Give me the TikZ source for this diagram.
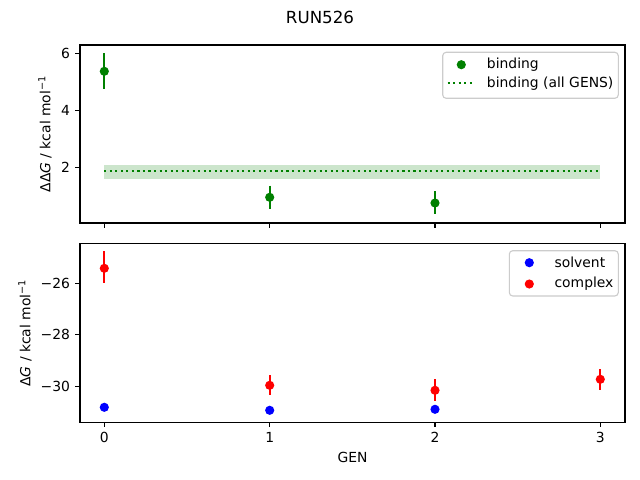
\documentclass[tikz,border=0pt]{standalone}
\usepackage{fontspec}
\setmainfont{DejaVu Sans}
\definecolor{mgreen}{HTML}{008000}
\definecolor{mblue}{HTML}{0000FF}
\definecolor{mred}{HTML}{FF0000}
\begin{document}
\begin{tikzpicture}[x=0.72pt,y=-0.72pt,
  axbox/.style={draw=black,line width=0.8pt},
  tickmark/.style={draw=black,line width=0.8pt},
  ticklab/.style={font=\fontsize{10}{12}\selectfont,inner sep=0pt},
  lab/.style={font=\fontsize{10}{12}\selectfont,inner sep=0pt},
  dot/.style={circle,inner sep=0pt,minimum size=6.6pt,draw=none,fill=#1},
  errbar/.style={line width=1.5pt,draw=#1},
  legbox/.style={draw=black!20,line width=0.8pt,rounded corners=2.5pt,fill=white,fill opacity=0.8}]
\useasboundingbox (0,0) rectangle (640,480);
\fill[white] (0,0) rectangle (640,480);
% title
\node[font=\fontsize{12}{14}\selectfont,inner sep=0pt] (title) at (320,17) {RUN526};
% ---------- top axes ----------
\fill[mgreen,opacity=0.2] (104.3,165) rectangle (600.3,178.7);
\draw[mgreen,line width=1.5pt,dash pattern=on 1.5pt off 2.475pt] (104.3,170.7) -- (600.3,170.7);
\draw[errbar=mgreen] (104.3,53.3) -- (104.3,88.7);
\draw[errbar=mgreen] (269.7,185.7) -- (269.7,208.7);
\draw[errbar=mgreen] (435.0,191) -- (435.0,214.3);
\node[dot=mgreen] (g0) at (104.3,71.3) {};
\node[dot=mgreen] (g1) at (269.7,197.3) {};
\node[dot=mgreen] (g2) at (435.0,203) {};
\draw[axbox] (80,45) rectangle (625,223);
\foreach \xx in {104.3,269.7,435.0,600.3}
  \draw[tickmark] (\xx,223) -- (\xx,227.9);
\foreach \yy/\tl in {167.3/2,110.5/4,53.7/6}{
  \draw[tickmark] (80,\yy) -- (75.1,\yy);
  \node[ticklab,anchor=east] at (70.2,\yy) {\tl};
}
\node[lab,rotate=90] (ylab1) at (45,134) {ΔΔ{\itshape G} / kcal mol\textsuperscript{−1}};
% legend top
\draw[legbox] (442.7,52.3) rectangle (618.3,98.3);
\node[dot=mgreen] (lg) at (461.3,64.7) {};
\node[lab,anchor=west] (lgt) at (486.7,64.7) {binding};
\draw[mgreen,line width=1.5pt,dash pattern=on 1.5pt off 2.475pt] (447.7,83.3) -- (475,83.3);
\node[lab,anchor=west] (lgt2) at (486.7,83.3) {binding (all GENS)};
% ---------- bottom axes ----------
\draw[errbar=mred] (104.3,251) -- (104.3,283.3);
\draw[errbar=mred] (269.7,375.3) -- (269.7,394.7);
\draw[errbar=mred] (435.0,379) -- (435.0,400.7);
\draw[errbar=mred] (600.3,369) -- (600.3,389.7);
\node[dot=mblue] (b0) at (104.3,407.3) {};
\node[dot=mblue] (b1) at (269.7,410.3) {};
\node[dot=mblue] (b2) at (435.0,409.3) {};
\node[dot=mred] (r0) at (104.3,268.3) {};
\node[dot=mred] (r1) at (269.7,385.3) {};
\node[dot=mred] (r2) at (435.0,390.3) {};
\node[dot=mred] (r3) at (600.3,379.3) {};
\draw[axbox] (80,243.3) rectangle (625,422.3);
\foreach \xx/\tl in {104.3/0,269.7/1,435.0/2,600.3/3}{
  \draw[tickmark] (\xx,422.3) -- (\xx,427.2);
  \node[ticklab,anchor=north] at (\xx,432.1) {\tl};
}
\foreach \yy/\tl in {283.3/−26,334.8/−28,386.3/−30}{
  \draw[tickmark] (80,\yy) -- (75.1,\yy);
  \node[ticklab,anchor=east] at (70.2,\yy) {\tl};
}
\node[lab,rotate=90] (ylab2) at (25,333) {Δ{\itshape G} / kcal mol\textsuperscript{−1}};
\node[lab] (xlab) at (352.5,457.7) {GEN};
% legend bottom
\draw[legbox] (509.3,250.7) rectangle (618.3,296);
\node[dot=mblue] (ls) at (529.3,262.7) {};
\node[lab,anchor=west] (lst) at (554.3,262.7) {solvent};
\node[dot=mred] (lc) at (529.3,284) {};
\node[lab,anchor=west] (lct) at (554.3,284) {complex};
\end{tikzpicture}
\end{document}
